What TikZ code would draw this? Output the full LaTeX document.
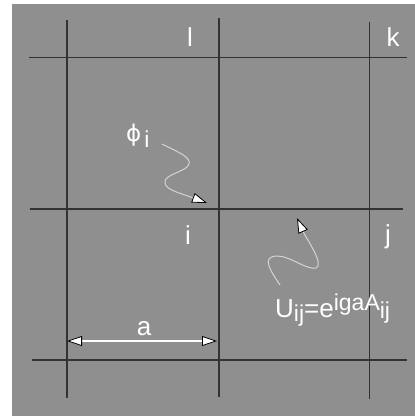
\documentclass[tikz,border=0pt]{standalone}
\usepackage{fontspec}
\setmainfont{Liberation Sans}
\newfontfamily\greekfont{DejaVu Sans}
\usetikzlibrary{arrows.meta}
\definecolor{panel}{RGB}{143,143,143}
\definecolor{gridline}{RGB}{50,50,50}
\definecolor{wave}{RGB}{212,212,212}
\newcommand\labelsz{\fontsize{26}{26}\selectfont}
\newcommand\scriptsz{\fontsize{23}{23}\selectfont}

\begin{document}
\begin{tikzpicture}[
    x=1pt, y=-1pt,
    wtip/.tip={Triangle[length=15pt, width=10pt, color=black, fill=white, line width=0.8pt]},
    grid/.style={draw=gridline, line width=1.6pt},
    site/.style={text=white, font=\labelsz, anchor=base, inner sep=0pt},
    wavy/.style={draw=wave, line width=1pt, -wtip},
    span/.style={draw=white, line width=1.3pt, wtip-wtip},
  ]
  \useasboundingbox (0,0) rectangle (415,416);
  \fill[panel] (12,4) rectangle (415,416);

  % ---------- lattice ----------
  \foreach \x/\ya/\yb in {66.7/20/398, 218.7/18/397, 369.3/22/399}
    \draw[grid] (\x,\ya) -- (\x,\yb);
  \foreach \y/\xa/\xb in {57.3/29/407, 209/30/403, 360/32/407}
    \draw[grid] (\xa,\y) -- (\xb,\y);

  % ---------- sites ----------
  \node[site] (site-l) at (190,46.5) {l};
  \node[site] (site-k) at (393,46.5) {k};
  \node[site] (site-i) at (188,244) {i};
  \node[site] (site-j) at (388,243) {j};

  % ---------- spacing ----------
  \coordinate (a-left) at (67,341);
  \coordinate (a-right) at (217,341);
  \draw[span] (a-left) -- (a-right);
  \node[site] (len-a) at (144,335) {a};

  % ---------- fields ----------
  \node[site, anchor=base west] (phi) at (126,141)
    {{\greekfont\fontsize{23}{23}\selectfont ϕ}\kern3pt\raisebox{-6pt}{\scriptsz i}};
  \coordinate (phi-tail) at (162,144);
  \coordinate (phi-head) at (207,203);
  \draw[wavy] (phi-tail) .. controls (178,152) and (191,157) .. (189,164)
    .. controls (187,172) and (163,174) .. (165,183)
    .. controls (166,190) and (180,193) .. (phi-head);

  \node[site, anchor=base west] (link) at (275,317)
    {U\raisebox{-4pt}{\scriptsz ij}=e\raisebox{7pt}{\scriptsz igaA\raisebox{-8pt}{ij}}};
  \coordinate (u-tail) at (280,285);
  \coordinate (u-head) at (297,218);
  \draw[wavy] (u-tail) .. controls (270,270) and (262,258) .. (275,256)
    .. controls (290,255) and (305,270) .. (316,268)
    .. controls (325,265) and (306,238) .. (u-head);
\end{tikzpicture}
\end{document}
